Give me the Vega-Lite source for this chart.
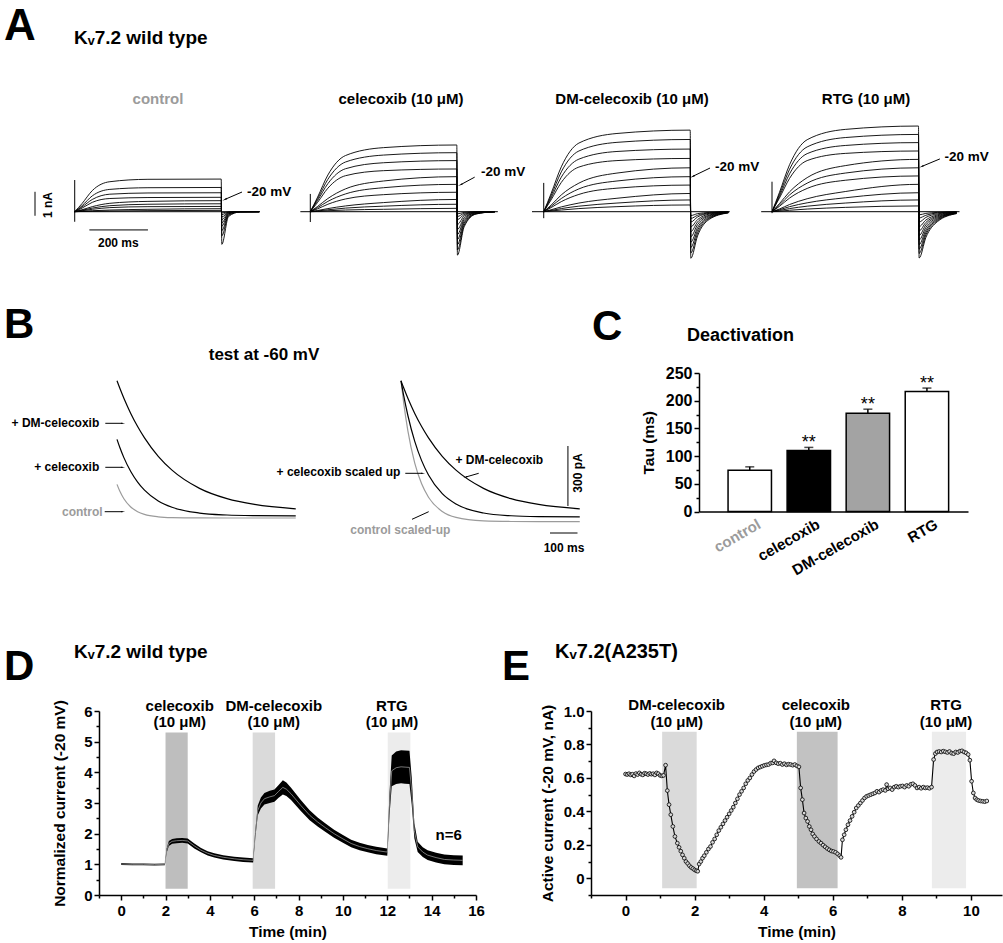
{
"$schema":"https://vega.github.io/schema/vega-lite/v6.json",
"background":"white",
"padding":{"top":5,"left":2,"right":0,"bottom":0},
"spacing":10,
"resolve":{"scale":{"color":"independent","fill":"independent"}},
"config":{
 "view":{"stroke":null},
 "font":"Liberation Sans",
 "title":{"font":"Liberation Sans","color":"black"},
 "text":{"font":"Liberation Sans","color":"black"},
 "axis":{"domainColor":"black","domainWidth":1.5,"tickColor":"black","tickWidth":1.5,"tickSize":5,"labelFont":"Liberation Sans","labelFontWeight":"bold","labelFontSize":15,"labelColor":"black","titleFont":"Liberation Sans","titleFontWeight":"bold","titleFontSize":15.5,"titleColor":"black","grid":false,"labelPadding":2,"labelFlush":false,"labelOverlap":false}
},
"datasets":{
"a0":[
{"k":1,"t":0,"v":0},{"k":1,"t":25,"v":0.34},{"k":1,"t":60,"v":0.88},{"k":1,"t":120,"v":1.25},{"k":1,"t":250,"v":1.35},{"k":1,"t":500,"v":1.36},{"k":1,"t":502,"v":-1.36},{"k":1,"t":525,"v":-0.2},{"k":1,"t":565,"v":-0.01},{"k":1,"t":630,"v":0},
{"k":2,"t":0,"v":0},{"k":2,"t":25,"v":0.25},{"k":2,"t":60,"v":0.66},{"k":2,"t":120,"v":0.93},{"k":2,"t":250,"v":1.0},{"k":2,"t":500,"v":1.01},{"k":2,"t":502,"v":-1.01},{"k":2,"t":525,"v":-0.15},{"k":2,"t":565,"v":-0.01},{"k":2,"t":630,"v":0},
{"k":3,"t":0,"v":0},{"k":3,"t":25,"v":0.2},{"k":3,"t":60,"v":0.51},{"k":3,"t":120,"v":0.73},{"k":3,"t":250,"v":0.78},{"k":3,"t":500,"v":0.79},{"k":3,"t":502,"v":-0.79},{"k":3,"t":525,"v":-0.12},{"k":3,"t":565,"v":0},{"k":3,"t":630,"v":0},
{"k":4,"t":0,"v":0},{"k":4,"t":25,"v":0.15},{"k":4,"t":60,"v":0.39},{"k":4,"t":120,"v":0.55},{"k":4,"t":250,"v":0.59},{"k":4,"t":500,"v":0.6},{"k":4,"t":502,"v":-0.6},{"k":4,"t":525,"v":-0.09},{"k":4,"t":565,"v":0},{"k":4,"t":630,"v":0},
{"k":5,"t":0,"v":0},{"k":5,"t":25,"v":0.08},{"k":5,"t":60,"v":0.21},{"k":5,"t":120,"v":0.35},{"k":5,"t":250,"v":0.43},{"k":5,"t":500,"v":0.46},{"k":5,"t":502,"v":-0.46},{"k":5,"t":525,"v":-0.07},{"k":5,"t":565,"v":0},{"k":5,"t":630,"v":0},
{"k":6,"t":0,"v":0},{"k":6,"t":25,"v":0.06},{"k":6,"t":60,"v":0.15},{"k":6,"t":120,"v":0.25},{"k":6,"t":250,"v":0.31},{"k":6,"t":500,"v":0.33},{"k":6,"t":502,"v":-0.33},{"k":6,"t":525,"v":-0.05},{"k":6,"t":565,"v":0},{"k":6,"t":630,"v":0},
{"k":7,"t":0,"v":0},{"k":7,"t":25,"v":0.04},{"k":7,"t":60,"v":0.1},{"k":7,"t":120,"v":0.17},{"k":7,"t":250,"v":0.21},{"k":7,"t":500,"v":0.22},{"k":7,"t":502,"v":-0.22},{"k":7,"t":525,"v":-0.03},{"k":7,"t":565,"v":0},{"k":7,"t":630,"v":0},
{"k":8,"t":0,"v":0},{"k":8,"t":25,"v":0.015},{"k":8,"t":60,"v":0.04},{"k":8,"t":120,"v":0.07},{"k":8,"t":250,"v":0.1},{"k":8,"t":500,"v":0.125},{"k":8,"t":502,"v":-0.12},{"k":8,"t":525,"v":-0.02},{"k":8,"t":565,"v":0},{"k":8,"t":630,"v":0},
{"k":9,"t":0,"v":0},{"k":9,"t":25,"v":0.01},{"k":9,"t":60,"v":0.02},{"k":9,"t":120,"v":0.03},{"k":9,"t":250,"v":0.045},{"k":9,"t":500,"v":0.055},{"k":9,"t":502,"v":-0.05},{"k":9,"t":525,"v":-0.01},{"k":9,"t":565,"v":0},{"k":9,"t":630,"v":0}
],
"a1":[
{"k":1,"t":0,"v":0},{"k":1,"t":25,"v":0.61},{"k":1,"t":60,"v":1.53},{"k":1,"t":120,"v":2.34},{"k":1,"t":250,"v":2.67},{"k":1,"t":500,"v":2.78},{"k":1,"t":502,"v":-1.81},{"k":1,"t":525,"v":-0.63},{"k":1,"t":565,"v":-0.1},{"k":1,"t":630,"v":0},
{"k":2,"t":0,"v":0},{"k":2,"t":25,"v":0.54},{"k":2,"t":60,"v":1.35},{"k":2,"t":120,"v":2.07},{"k":2,"t":250,"v":2.36},{"k":2,"t":500,"v":2.46},{"k":2,"t":502,"v":-1.6},{"k":2,"t":525,"v":-0.56},{"k":2,"t":565,"v":-0.09},{"k":2,"t":630,"v":0},
{"k":3,"t":0,"v":0},{"k":3,"t":25,"v":0.47},{"k":3,"t":60,"v":1.17},{"k":3,"t":120,"v":1.79},{"k":3,"t":250,"v":2.04},{"k":3,"t":500,"v":2.13},{"k":3,"t":502,"v":-1.38},{"k":3,"t":525,"v":-0.48},{"k":3,"t":565,"v":-0.08},{"k":3,"t":630,"v":0},
{"k":4,"t":0,"v":0},{"k":4,"t":25,"v":0.39},{"k":4,"t":60,"v":0.98},{"k":4,"t":120,"v":1.5},{"k":4,"t":250,"v":1.71},{"k":4,"t":500,"v":1.78},{"k":4,"t":502,"v":-1.16},{"k":4,"t":525,"v":-0.41},{"k":4,"t":565,"v":-0.07},{"k":4,"t":630,"v":0},
{"k":5,"t":0,"v":0},{"k":5,"t":25,"v":0.22},{"k":5,"t":60,"v":0.55},{"k":5,"t":120,"v":0.95},{"k":5,"t":250,"v":1.28},{"k":5,"t":500,"v":1.46},{"k":5,"t":502,"v":-0.95},{"k":5,"t":525,"v":-0.33},{"k":5,"t":565,"v":-0.05},{"k":5,"t":630,"v":0},
{"k":6,"t":0,"v":0},{"k":6,"t":25,"v":0.17},{"k":6,"t":60,"v":0.43},{"k":6,"t":120,"v":0.74},{"k":6,"t":250,"v":1.0},{"k":6,"t":500,"v":1.14},{"k":6,"t":502,"v":-0.74},{"k":6,"t":525,"v":-0.26},{"k":6,"t":565,"v":-0.04},{"k":6,"t":630,"v":0},
{"k":7,"t":0,"v":0},{"k":7,"t":25,"v":0.12},{"k":7,"t":60,"v":0.31},{"k":7,"t":120,"v":0.53},{"k":7,"t":250,"v":0.71},{"k":7,"t":500,"v":0.81},{"k":7,"t":502,"v":-0.53},{"k":7,"t":525,"v":-0.18},{"k":7,"t":565,"v":-0.03},{"k":7,"t":630,"v":0},
{"k":8,"t":0,"v":0},{"k":8,"t":25,"v":0.05},{"k":8,"t":60,"v":0.13},{"k":8,"t":120,"v":0.24},{"k":8,"t":250,"v":0.38},{"k":8,"t":500,"v":0.51},{"k":8,"t":502,"v":-0.33},{"k":8,"t":525,"v":-0.12},{"k":8,"t":565,"v":-0.02},{"k":8,"t":630,"v":0},
{"k":9,"t":0,"v":0},{"k":9,"t":25,"v":0.03},{"k":9,"t":60,"v":0.08},{"k":9,"t":120,"v":0.15},{"k":9,"t":250,"v":0.23},{"k":9,"t":500,"v":0.31},{"k":9,"t":502,"v":-0.2},{"k":9,"t":525,"v":-0.07},{"k":9,"t":565,"v":-0.01},{"k":9,"t":630,"v":0},
{"k":10,"t":0,"v":0},{"k":10,"t":25,"v":0.01},{"k":10,"t":60,"v":0.04},{"k":10,"t":120,"v":0.07},{"k":10,"t":250,"v":0.1},{"k":10,"t":500,"v":0.14},{"k":10,"t":502,"v":-0.09},{"k":10,"t":525,"v":-0.03},{"k":10,"t":565,"v":0},{"k":10,"t":630,"v":0}
],
"a2":[
{"k":1,"t":0,"v":0},{"k":1,"t":25,"v":0.75},{"k":1,"t":60,"v":1.87},{"k":1,"t":120,"v":2.86},{"k":1,"t":250,"v":3.26},{"k":1,"t":500,"v":3.4},{"k":1,"t":502,"v":-1.94},{"k":1,"t":525,"v":-1.01},{"k":1,"t":565,"v":-0.32},{"k":1,"t":630,"v":-0.05},
{"k":2,"t":0,"v":0},{"k":2,"t":25,"v":0.66},{"k":2,"t":60,"v":1.66},{"k":2,"t":120,"v":2.53},{"k":2,"t":250,"v":2.89},{"k":2,"t":500,"v":3.01},{"k":2,"t":502,"v":-1.72},{"k":2,"t":525,"v":-0.89},{"k":2,"t":565,"v":-0.28},{"k":2,"t":630,"v":-0.04},
{"k":3,"t":0,"v":0},{"k":3,"t":25,"v":0.57},{"k":3,"t":60,"v":1.44},{"k":3,"t":120,"v":2.19},{"k":3,"t":250,"v":2.51},{"k":3,"t":500,"v":2.61},{"k":3,"t":502,"v":-1.49},{"k":3,"t":525,"v":-0.77},{"k":3,"t":565,"v":-0.25},{"k":3,"t":630,"v":-0.04},
{"k":4,"t":0,"v":0},{"k":4,"t":25,"v":0.49},{"k":4,"t":60,"v":1.22},{"k":4,"t":120,"v":1.86},{"k":4,"t":250,"v":2.13},{"k":4,"t":500,"v":2.22},{"k":4,"t":502,"v":-1.27},{"k":4,"t":525,"v":-0.66},{"k":4,"t":565,"v":-0.21},{"k":4,"t":630,"v":-0.03},
{"k":5,"t":0,"v":0},{"k":5,"t":25,"v":0.27},{"k":5,"t":60,"v":0.7},{"k":5,"t":120,"v":1.19},{"k":5,"t":250,"v":1.61},{"k":5,"t":500,"v":1.83},{"k":5,"t":502,"v":-1.04},{"k":5,"t":525,"v":-0.54},{"k":5,"t":565,"v":-0.17},{"k":5,"t":630,"v":-0.03},
{"k":6,"t":0,"v":0},{"k":6,"t":25,"v":0.22},{"k":6,"t":60,"v":0.55},{"k":6,"t":120,"v":0.95},{"k":6,"t":250,"v":1.28},{"k":6,"t":500,"v":1.46},{"k":6,"t":502,"v":-0.83},{"k":6,"t":525,"v":-0.43},{"k":6,"t":565,"v":-0.14},{"k":6,"t":630,"v":-0.02},
{"k":7,"t":0,"v":0},{"k":7,"t":25,"v":0.17},{"k":7,"t":60,"v":0.42},{"k":7,"t":120,"v":0.72},{"k":7,"t":250,"v":0.98},{"k":7,"t":500,"v":1.11},{"k":7,"t":502,"v":-0.63},{"k":7,"t":525,"v":-0.33},{"k":7,"t":565,"v":-0.1},{"k":7,"t":630,"v":-0.02},
{"k":8,"t":0,"v":0},{"k":8,"t":25,"v":0.08},{"k":8,"t":60,"v":0.2},{"k":8,"t":120,"v":0.36},{"k":8,"t":250,"v":0.56},{"k":8,"t":500,"v":0.76},{"k":8,"t":502,"v":-0.43},{"k":8,"t":525,"v":-0.22},{"k":8,"t":565,"v":-0.07},{"k":8,"t":630,"v":-0.01},
{"k":9,"t":0,"v":0},{"k":9,"t":25,"v":0.05},{"k":9,"t":60,"v":0.13},{"k":9,"t":120,"v":0.23},{"k":9,"t":250,"v":0.36},{"k":9,"t":500,"v":0.49},{"k":9,"t":502,"v":-0.28},{"k":9,"t":525,"v":-0.15},{"k":9,"t":565,"v":-0.05},{"k":9,"t":630,"v":0},
{"k":10,"t":0,"v":0},{"k":10,"t":25,"v":0.03},{"k":10,"t":60,"v":0.07},{"k":10,"t":120,"v":0.13},{"k":10,"t":250,"v":0.21},{"k":10,"t":500,"v":0.28},{"k":10,"t":502,"v":-0.16},{"k":10,"t":525,"v":-0.08},{"k":10,"t":565,"v":-0.03},{"k":10,"t":630,"v":0}
],
"a3":[
{"k":1,"t":0,"v":0},{"k":1,"t":25,"v":0.79},{"k":1,"t":60,"v":1.96},{"k":1,"t":120,"v":3.0},{"k":1,"t":250,"v":3.43},{"k":1,"t":500,"v":3.57},{"k":1,"t":502,"v":-1.93},{"k":1,"t":525,"v":-1.08},{"k":1,"t":565,"v":-0.41},{"k":1,"t":630,"v":-0.08},
{"k":2,"t":0,"v":0},{"k":2,"t":25,"v":0.71},{"k":2,"t":60,"v":1.77},{"k":2,"t":120,"v":2.7},{"k":2,"t":250,"v":3.09},{"k":2,"t":500,"v":3.22},{"k":2,"t":502,"v":-1.74},{"k":2,"t":525,"v":-0.97},{"k":2,"t":565,"v":-0.37},{"k":2,"t":630,"v":-0.07},
{"k":3,"t":0,"v":0},{"k":3,"t":25,"v":0.63},{"k":3,"t":60,"v":1.58},{"k":3,"t":120,"v":2.42},{"k":3,"t":250,"v":2.76},{"k":3,"t":500,"v":2.88},{"k":3,"t":502,"v":-1.56},{"k":3,"t":525,"v":-0.87},{"k":3,"t":565,"v":-0.33},{"k":3,"t":630,"v":-0.06},
{"k":4,"t":0,"v":0},{"k":4,"t":25,"v":0.56},{"k":4,"t":60,"v":1.39},{"k":4,"t":120,"v":2.13},{"k":4,"t":250,"v":2.43},{"k":4,"t":500,"v":2.53},{"k":4,"t":502,"v":-1.37},{"k":4,"t":525,"v":-0.77},{"k":4,"t":565,"v":-0.29},{"k":4,"t":630,"v":-0.05},
{"k":5,"t":0,"v":0},{"k":5,"t":25,"v":0.33},{"k":5,"t":60,"v":0.83},{"k":5,"t":120,"v":1.42},{"k":5,"t":250,"v":1.92},{"k":5,"t":500,"v":2.18},{"k":5,"t":502,"v":-1.18},{"k":5,"t":525,"v":-0.66},{"k":5,"t":565,"v":-0.25},{"k":5,"t":630,"v":-0.05},
{"k":6,"t":0,"v":0},{"k":6,"t":25,"v":0.27},{"k":6,"t":60,"v":0.7},{"k":6,"t":120,"v":1.19},{"k":6,"t":250,"v":1.61},{"k":6,"t":500,"v":1.83},{"k":6,"t":502,"v":-0.99},{"k":6,"t":525,"v":-0.55},{"k":6,"t":565,"v":-0.21},{"k":6,"t":630,"v":-0.04},
{"k":7,"t":0,"v":0},{"k":7,"t":25,"v":0.22},{"k":7,"t":60,"v":0.57},{"k":7,"t":120,"v":0.97},{"k":7,"t":250,"v":1.31},{"k":7,"t":500,"v":1.49},{"k":7,"t":502,"v":-0.8},{"k":7,"t":525,"v":-0.45},{"k":7,"t":565,"v":-0.17},{"k":7,"t":630,"v":-0.03},
{"k":8,"t":0,"v":0},{"k":8,"t":25,"v":0.11},{"k":8,"t":60,"v":0.3},{"k":8,"t":120,"v":0.54},{"k":8,"t":250,"v":0.84},{"k":8,"t":500,"v":1.14},{"k":8,"t":502,"v":-0.62},{"k":8,"t":525,"v":-0.35},{"k":8,"t":565,"v":-0.13},{"k":8,"t":630,"v":-0.02},
{"k":9,"t":0,"v":0},{"k":9,"t":25,"v":0.08},{"k":9,"t":60,"v":0.21},{"k":9,"t":120,"v":0.37},{"k":9,"t":250,"v":0.58},{"k":9,"t":500,"v":0.79},{"k":9,"t":502,"v":-0.43},{"k":9,"t":525,"v":-0.24},{"k":9,"t":565,"v":-0.09},{"k":9,"t":630,"v":-0.02},
{"k":10,"t":0,"v":0},{"k":10,"t":25,"v":0.05},{"k":10,"t":60,"v":0.13},{"k":10,"t":120,"v":0.23},{"k":10,"t":250,"v":0.36},{"k":10,"t":500,"v":0.49},{"k":10,"t":502,"v":-0.26},{"k":10,"t":525,"v":-0.15},{"k":10,"t":565,"v":-0.05},{"k":10,"t":630,"v":-0.01},
{"k":11,"t":0,"v":0},{"k":11,"t":25,"v":0.02},{"k":11,"t":60,"v":0.06},{"k":11,"t":120,"v":0.11},{"k":11,"t":250,"v":0.18},{"k":11,"t":500,"v":0.24},{"k":11,"t":502,"v":-0.13},{"k":11,"t":525,"v":-0.07},{"k":11,"t":565,"v":-0.03},{"k":11,"t":630,"v":0}
],
"ann":[
{"p":"a0","m":"r","t":-2,"v":0,"t2":630,"v2":0},
{"p":"a0","m":"r","t":0,"v":-0.42,"t2":0,"v2":1.32},
{"p":"a0","m":"r","t":571,"v":0.82,"t2":514,"v2":0.52},
{"p":"a0","m":"r","t":-135.5,"v":-0.17,"t2":-135.5,"v2":0.83},
{"p":"a0","m":"r","t":50,"v":-0.76,"t2":250,"v2":-0.76},
{"p":"a0","m":"h","t":514,"v":0.52},
{"p":"a0","m":"s","t":588,"v":0.82,"lab":"-20 mV"},
{"p":"a0","m":"c","t":148.8,"v":-1.32,"lab":"200 ms"},
{"p":"a0","m":"rot","t":-91.8,"v":0.28,"lab":"1 nA"},
{"p":"a1","m":"r","t":-34,"v":0,"t2":640,"v2":0},
{"p":"a1","m":"r","t":0,"v":-0.43,"t2":0,"v2":0.74},
{"p":"a1","m":"r","t":561,"v":1.44,"t2":514,"v2":1.13},
{"p":"a1","m":"h","t":514,"v":1.13},
{"p":"a1","m":"s","t":582.6,"v":1.65,"lab":"-20 mV"},
{"p":"a2","m":"r","t":-40,"v":0,"t2":635,"v2":0},
{"p":"a2","m":"r","t":0,"v":-0.27,"t2":0,"v2":1.2},
{"p":"a2","m":"r","t":567.6,"v":1.82,"t2":510,"v2":1.48},
{"p":"a2","m":"h","t":510,"v":1.48},
{"p":"a2","m":"s","t":584.6,"v":1.86,"lab":"-20 mV"},
{"p":"a3","m":"r","t":-37,"v":0,"t2":640,"v2":0},
{"p":"a3","m":"r","t":0,"v":-0.06,"t2":0,"v2":1.25},
{"p":"a3","m":"r","t":573,"v":2.2,"t2":512,"v2":1.89},
{"p":"a3","m":"h","t":512,"v":1.89},
{"p":"a3","m":"s","t":588.4,"v":2.28,"lab":"-20 mV"}
],
"b1":[
{"s":"ctl","t":0,"v":168},{"s":"ctl","t":10,"v":134.6},{"s":"ctl","t":25,"v":96.4},{"s":"ctl","t":50,"v":55.3},{"s":"ctl","t":75,"v":31.7},{"s":"ctl","t":100,"v":18.2},{"s":"ctl","t":150,"v":6},{"s":"ctl","t":200,"v":2},{"s":"ctl","t":300,"v":0.2},{"s":"ctl","t":400,"v":0},{"s":"ctl","t":500,"v":0},{"s":"ctl","t":650,"v":0},
{"s":"cel","t":0,"v":393},{"s":"cel","t":10,"v":353.6},{"s":"cel","t":25,"v":301.9},{"s":"cel","t":50,"v":232.5},{"s":"cel","t":75,"v":179.5},{"s":"cel","t":100,"v":139.1},{"s":"cel","t":150,"v":85},{"s":"cel","t":200,"v":53.5},{"s":"cel","t":300,"v":24.7},{"s":"cel","t":400,"v":15},{"s":"cel","t":500,"v":11.7},{"s":"cel","t":650,"v":10.3},
{"s":"dm","t":0,"v":686},{"s":"dm","t":10,"v":649.6},{"s":"dm","t":25,"v":598.8},{"s":"dm","t":50,"v":523},{"s":"dm","t":75,"v":457.3},{"s":"dm","t":100,"v":400.4},{"s":"dm","t":150,"v":308.4},{"s":"dm","t":200,"v":239.2},{"s":"dm","t":300,"v":148.1},{"s":"dm","t":400,"v":96.7},{"s":"dm","t":500,"v":67.7},{"s":"dm","t":650,"v":46}
],
"b2":[
{"s":"ctl","t":0,"v":686},{"s":"ctl","t":10,"v":572.8},{"s":"ctl","t":25,"v":436},{"s":"ctl","t":50,"v":274.8},{"s":"ctl","t":75,"v":170.8},{"s":"ctl","t":100,"v":103.8},{"s":"ctl","t":150,"v":32.6},{"s":"ctl","t":200,"v":3},{"s":"ctl","t":300,"v":-14.4},{"s":"ctl","t":400,"v":-17.4},{"s":"ctl","t":500,"v":-18},{"s":"ctl","t":650,"v":-18},
{"s":"cel","t":0,"v":686},{"s":"cel","t":10,"v":610.4},{"s":"cel","t":25,"v":512.5},{"s":"cel","t":50,"v":383},{"s":"cel","t":75,"v":286.9},{"s":"cel","t":100,"v":215},{"s":"cel","t":150,"v":121.6},{"s":"cel","t":200,"v":69.8},{"s":"cel","t":300,"v":25},{"s":"cel","t":400,"v":11.2},{"s":"cel","t":500,"v":6.9},{"s":"cel","t":650,"v":5.3},
{"s":"dm","t":0,"v":686},{"s":"dm","t":10,"v":649.6},{"s":"dm","t":25,"v":598.8},{"s":"dm","t":50,"v":523},{"s":"dm","t":75,"v":457.3},{"s":"dm","t":100,"v":400.4},{"s":"dm","t":150,"v":308.4},{"s":"dm","t":200,"v":239.2},{"s":"dm","t":300,"v":148.1},{"s":"dm","t":400,"v":96.7},{"s":"dm","t":500,"v":67.7},{"s":"dm","t":650,"v":46}
],
"bann":[
{"p":"b1","m":"r","t":-42.5,"v":473.5,"t2":20,"v2":473.5},
{"p":"b1","m":"r","t":-42.5,"v":253.5,"t2":20,"v2":253.5},
{"p":"b1","m":"r","t":-44.7,"v":31.5,"t2":20,"v2":31.5},
{"p":"b1","m":"h","t":20,"v":473.5},
{"p":"b1","m":"h","t":20,"v":253.5},
{"p":"b1","m":"h","t":20,"v":31.5},
{"p":"b1","m":"sr","s":"dm","t":-64.4,"v":473.5,"lab":"+ DM-celecoxib"},
{"p":"b1","m":"sr","s":"cel","t":-64.4,"v":253.5,"lab":"+ celecoxib"},
{"p":"b1","m":"sr","s":"ctl","t":-52,"v":31.5,"lab":"control"},
{"p":"b2","m":"r","t":15.6,"v":223.5,"t2":78,"v2":223.5},
{"p":"b2","m":"h","t":78,"v":223.5},
{"p":"b2","m":"r","t":282.5,"v":223.5,"t2":236,"v2":205},
{"p":"b2","m":"h2","t":236,"v":205},
{"p":"b2","m":"r","t":40,"v":-6.5,"t2":100.7,"v2":31.5},
{"p":"b2","m":"r","t":607,"v":60,"t2":607,"v2":360},
{"p":"b2","m":"r","t":541.8,"v":-75,"t2":641.8,"v2":-75},
{"p":"b2","m":"sr","s":"cel","t":-2.5,"v":231.5,"lab":"+ celecoxib scaled up"},
{"p":"b2","m":"sl","s":"dm","t":197.8,"v":290,"lab":"+ DM-celecoxib"},
{"p":"b2","m":"sl","s":"ctl","t":-184.4,"v":-60,"lab":"control scaled-up"},
{"p":"b2","m":"sc","s":"dm","t":592.7,"v":-150,"lab":"100 ms"},
{"p":"b2","m":"rot","s":"dm","t":643.6,"v":225,"lab":"300 pA"}
],
"cdata":[
{"g":"control","m":74.5,"hi":80.6,"sig":""},
{"g":"celecoxib","m":110.2,"hi":115.7,"sig":"**"},
{"g":"DM-celecoxib","m":177.4,"hi":184.7,"sig":"**"},
{"g":"RTG","m":216.8,"hi":222.8,"sig":"**"}
],
"drect":[
{"d":"cel","t0":2.0,"t1":3.0,"lo":0.2,"hi":5.3},
{"d":"dm","t0":5.93,"t1":6.94,"lo":0.2,"hi":5.3},
{"d":"rtg","t0":12.02,"t1":13.04,"lo":0.2,"hi":5.3}
],
"dline":[
{"t":0,"m":1.01,"lo":0.98,"hi":1.04},{"t":0.5,"m":1.0,"lo":0.97,"hi":1.03},{"t":1.0,"m":1.0,"lo":0.97,"hi":1.03},{"t":1.5,"m":0.99,"lo":0.96,"hi":1.02},{"t":1.97,"m":1.0,"lo":0.97,"hi":1.03},
{"t":2.05,"m":1.45,"lo":1.38,"hi":1.52},{"t":2.15,"m":1.68,"lo":1.6,"hi":1.76},{"t":2.3,"m":1.75,"lo":1.67,"hi":1.83},{"t":2.5,"m":1.77,"lo":1.69,"hi":1.85},{"t":2.75,"m":1.78,"lo":1.7,"hi":1.86},{"t":3.0,"m":1.76,"lo":1.68,"hi":1.84},
{"t":3.3,"m":1.6,"lo":1.52,"hi":1.68},{"t":3.6,"m":1.46,"lo":1.39,"hi":1.53},{"t":3.9,"m":1.36,"lo":1.29,"hi":1.43},{"t":4.2,"m":1.29,"lo":1.22,"hi":1.36},{"t":4.6,"m":1.23,"lo":1.16,"hi":1.3},{"t":5.1,"m":1.18,"lo":1.11,"hi":1.25},{"t":5.5,"m":1.15,"lo":1.08,"hi":1.22},{"t":5.95,"m":1.13,"lo":1.06,"hi":1.2},
{"t":6.05,"m":2.0,"lo":1.88,"hi":2.12},{"t":6.16,"m":2.76,"lo":2.6,"hi":2.92},{"t":6.3,"m":3.0,"lo":2.82,"hi":3.18},{"t":6.46,"m":3.14,"lo":2.95,"hi":3.33},{"t":6.7,"m":3.2,"lo":3.0,"hi":3.4},{"t":6.91,"m":3.24,"lo":3.04,"hi":3.44},{"t":7.1,"m":3.38,"lo":3.17,"hi":3.59},{"t":7.29,"m":3.51,"lo":3.28,"hi":3.74},{"t":7.45,"m":3.45,"lo":3.23,"hi":3.67},{"t":7.66,"m":3.3,"lo":3.1,"hi":3.5},
{"t":8.1,"m":2.92,"lo":2.74,"hi":3.1},{"t":8.5,"m":2.6,"lo":2.44,"hi":2.76},{"t":8.86,"m":2.38,"lo":2.23,"hi":2.53},{"t":9.2,"m":2.2,"lo":2.06,"hi":2.34},{"t":9.6,"m":2.0,"lo":1.87,"hi":2.13},{"t":10.0,"m":1.83,"lo":1.7,"hi":1.96},{"t":10.37,"m":1.68,"lo":1.56,"hi":1.8},{"t":10.75,"m":1.58,"lo":1.46,"hi":1.7},{"t":11.12,"m":1.51,"lo":1.39,"hi":1.63},{"t":11.5,"m":1.45,"lo":1.33,"hi":1.57},{"t":12.0,"m":1.4,"lo":1.28,"hi":1.52},
{"t":12.1,"m":2.97,"lo":2.6,"hi":3.34},{"t":12.2,"m":4.05,"lo":3.55,"hi":4.55},{"t":12.4,"m":4.15,"lo":3.62,"hi":4.68},{"t":12.62,"m":4.18,"lo":3.64,"hi":4.72},{"t":12.8,"m":4.17,"lo":3.63,"hi":4.71},{"t":13.0,"m":4.16,"lo":3.62,"hi":4.7},
{"t":13.1,"m":3.4,"lo":2.95,"hi":3.85},{"t":13.22,"m":2.1,"lo":1.85,"hi":2.35},{"t":13.37,"m":1.57,"lo":1.4,"hi":1.74},{"t":13.6,"m":1.4,"lo":1.24,"hi":1.56},{"t":13.82,"m":1.3,"lo":1.14,"hi":1.46},{"t":14.2,"m":1.22,"lo":1.06,"hi":1.38},{"t":14.57,"m":1.16,"lo":1.0,"hi":1.32},{"t":15.0,"m":1.14,"lo":0.98,"hi":1.3},{"t":15.4,"m":1.13,"lo":0.97,"hi":1.29}
],
"dtext":[
{"t":2.64,"v":6.16,"s":"celecoxib"},{"t":2.64,"v":5.65,"s":"(10 μM)"},
{"t":6.88,"v":6.16,"s":"DM-celecoxib"},{"t":6.88,"v":5.65,"s":"(10 μM)"},
{"t":12.21,"v":6.16,"s":"RTG"},{"t":12.21,"v":5.65,"s":"(10 μM)"},
{"t":14.77,"v":1.96,"s":"n=6"}
],
"erect":[
{"d":"dm","t0":1.06,"t1":2.06,"lo":-0.06,"hi":0.876},
{"d":"cel","t0":4.96,"t1":6.14,"lo":-0.06,"hi":0.876},
{"d":"rtg","t0":8.87,"t1":9.86,"lo":-0.06,"hi":0.876}
],
"etext":[
{"t":1.48,"v":1.035,"s":"DM-celecoxib"},{"t":1.48,"v":0.934,"s":"(10 μM)"},
{"t":5.51,"v":1.035,"s":"celecoxib"},{"t":5.51,"v":0.934,"s":"(10 μM)"},
{"t":9.28,"v":1.035,"s":"RTG"},{"t":9.28,"v":0.934,"s":"(10 μM)"}
],
"edata":[
{"t":0,"v":0.623},{"t":0.05,"v":0.62},{"t":0.1,"v":0.625},{"t":0.15,"v":0.618},{"t":0.2,"v":0.622},{"t":0.25,"v":0.612},{"t":0.3,"v":0.626},{"t":0.35,"v":0.62},{"t":0.4,"v":0.63},{"t":0.45,"v":0.622},{"t":0.5,"v":0.618},{"t":0.55,"v":0.628},{"t":0.6,"v":0.625},{"t":0.65,"v":0.62},{"t":0.7,"v":0.627},{"t":0.75,"v":0.622},{"t":0.8,"v":0.625},{"t":0.85,"v":0.618},{"t":0.9,"v":0.63},{"t":0.95,"v":0.625},{"t":1.0,"v":0.615},{"t":1.05,"v":0.612},{"t":1.1,"v":0.615},{"t":1.16,"v":0.676},
{"t":1.21,"v":0.524},{"t":1.26,"v":0.44},{"t":1.31,"v":0.38},{"t":1.37,"v":0.31},{"t":1.43,"v":0.25},{"t":1.5,"v":0.21},{"t":1.55,"v":0.185},{"t":1.6,"v":0.162},{"t":1.65,"v":0.14},{"t":1.7,"v":0.12},{"t":1.75,"v":0.1},{"t":1.8,"v":0.088},{"t":1.85,"v":0.075},{"t":1.9,"v":0.065},{"t":1.95,"v":0.058},{"t":2.0,"v":0.05},{"t":2.05,"v":0.045},{"t":2.09,"v":0.042},
{"t":2.13,"v":0.085},{"t":2.18,"v":0.1},{"t":2.23,"v":0.12},{"t":2.28,"v":0.135},{"t":2.34,"v":0.155},{"t":2.4,"v":0.175},{"t":2.46,"v":0.19},{"t":2.52,"v":0.215},{"t":2.58,"v":0.235},{"t":2.64,"v":0.26},{"t":2.7,"v":0.285},{"t":2.76,"v":0.305},{"t":2.82,"v":0.325},{"t":2.88,"v":0.345},{"t":2.94,"v":0.365},{"t":3.0,"v":0.385},{"t":3.06,"v":0.405},{"t":3.12,"v":0.425},{"t":3.18,"v":0.45},{"t":3.24,"v":0.475},{"t":3.3,"v":0.5},{"t":3.36,"v":0.52},{"t":3.42,"v":0.54},{"t":3.48,"v":0.565},{"t":3.54,"v":0.585},{"t":3.6,"v":0.6},{"t":3.66,"v":0.62},{"t":3.72,"v":0.638},{"t":3.78,"v":0.65},{"t":3.84,"v":0.66},{"t":3.9,"v":0.665},{"t":3.96,"v":0.67},{"t":4.02,"v":0.675},{"t":4.08,"v":0.678},{"t":4.14,"v":0.68},{"t":4.2,"v":0.688},{"t":4.26,"v":0.69},{"t":4.3,"v":0.702},{"t":4.36,"v":0.69},{"t":4.42,"v":0.685},{"t":4.48,"v":0.688},{"t":4.54,"v":0.68},{"t":4.6,"v":0.685},{"t":4.66,"v":0.678},{"t":4.72,"v":0.682},{"t":4.78,"v":0.68},{"t":4.84,"v":0.676},{"t":4.9,"v":0.68},{"t":4.96,"v":0.672},{"t":5.02,"v":0.666},
{"t":5.07,"v":0.54},{"t":5.12,"v":0.47},{"t":5.17,"v":0.39},{"t":5.22,"v":0.36},{"t":5.27,"v":0.34},{"t":5.32,"v":0.31},{"t":5.37,"v":0.29},{"t":5.42,"v":0.265},{"t":5.47,"v":0.25},{"t":5.53,"v":0.235},{"t":5.6,"v":0.22},{"t":5.66,"v":0.21},{"t":5.72,"v":0.198},{"t":5.78,"v":0.188},{"t":5.84,"v":0.178},{"t":5.9,"v":0.17},{"t":5.96,"v":0.163},{"t":6.02,"v":0.16},{"t":6.08,"v":0.155},{"t":6.14,"v":0.146},{"t":6.2,"v":0.135},{"t":6.24,"v":0.125},
{"t":6.28,"v":0.23},{"t":6.33,"v":0.26},{"t":6.38,"v":0.29},{"t":6.44,"v":0.32},{"t":6.5,"v":0.345},{"t":6.56,"v":0.37},{"t":6.62,"v":0.395},{"t":6.68,"v":0.42},{"t":6.74,"v":0.435},{"t":6.8,"v":0.45},{"t":6.86,"v":0.465},{"t":6.92,"v":0.48},{"t":6.98,"v":0.49},{"t":7.04,"v":0.495},{"t":7.1,"v":0.5},{"t":7.16,"v":0.505},{"t":7.22,"v":0.51},{"t":7.28,"v":0.52},{"t":7.34,"v":0.515},{"t":7.4,"v":0.525},{"t":7.46,"v":0.53},{"t":7.52,"v":0.525},{"t":7.56,"v":0.56},{"t":7.6,"v":0.535},{"t":7.66,"v":0.54},{"t":7.72,"v":0.53},{"t":7.78,"v":0.545},{"t":7.84,"v":0.55},{"t":7.9,"v":0.545},{"t":7.96,"v":0.55},{"t":8.02,"v":0.552},{"t":8.08,"v":0.545},{"t":8.14,"v":0.555},{"t":8.2,"v":0.55},{"t":8.26,"v":0.562},{"t":8.32,"v":0.565},{"t":8.38,"v":0.555},{"t":8.44,"v":0.54},{"t":8.5,"v":0.545},{"t":8.56,"v":0.538},{"t":8.62,"v":0.545},{"t":8.68,"v":0.54},{"t":8.74,"v":0.542},{"t":8.8,"v":0.538},{"t":8.86,"v":0.545},
{"t":8.92,"v":0.71},{"t":8.97,"v":0.745},{"t":9.02,"v":0.755},{"t":9.08,"v":0.758},{"t":9.14,"v":0.755},{"t":9.2,"v":0.76},{"t":9.26,"v":0.756},{"t":9.32,"v":0.752},{"t":9.38,"v":0.758},{"t":9.44,"v":0.748},{"t":9.5,"v":0.745},{"t":9.56,"v":0.755},{"t":9.62,"v":0.752},{"t":9.68,"v":0.76},{"t":9.74,"v":0.762},{"t":9.8,"v":0.755},{"t":9.86,"v":0.75},{"t":9.92,"v":0.74},{"t":9.97,"v":0.706},
{"t":10.02,"v":0.58},{"t":10.07,"v":0.51},{"t":10.12,"v":0.48},{"t":10.17,"v":0.47},{"t":10.22,"v":0.465},{"t":10.28,"v":0.462},{"t":10.34,"v":0.46},{"t":10.4,"v":0.458},{"t":10.46,"v":0.462}
]
},
"vconcat":[
{"bounds":"flush","spacing":0,"resolve":{"scale":{"color":"independent","fill":"independent"}},
 "title":{"text":"Kᵥ7.2 wild type","anchor":"start","frame":"group","dx":72,"offset":-57.5,"fontSize":19,"fontWeight":"bold","baseline":"alphabetic"},
 "hconcat":[
 {"width":97,"height":40,"data":{"values":[{}]},"mark":{"type":"text"},"encoding":{"text":{"value":""}},
  "title":{"text":"A","anchor":"start","frame":"group","dx":2,"offset":31,"fontSize":44,"fontWeight":"bold","baseline":"alphabetic"}},
 {"width":199,"height":179,
  "title":{"text":"control","color":"#9b9b9b","anchor":"middle","frame":"group","dx":-40.5,"offset":-4,"fontSize":15,"fontWeight":"bold","baseline":"alphabetic"},
  "encoding":{"x":{"field":"t","type":"quantitative","scale":{"domain":[82.9,762.1],"nice":false,"zero":false},"axis":null},"y":{"field":"v","type":"quantitative","scale":{"domain":[-3.43,4.03],"nice":false,"zero":false},"axis":null}},
  "layer":[
   {"data":{"name":"a0"},"mark":{"type":"line","interpolate":"monotone","color":"black","strokeWidth":0.9,"clip":false},"encoding":{"detail":{"field":"k","type":"nominal"}}},
   {"data":{"name":"ann"},"transform":[{"filter":"datum.p=='a0' && datum.m=='r'"}],"mark":{"type":"rule","color":"black","strokeWidth":1,"clip":false},"encoding":{"x2":{"field":"t2"},"y2":{"field":"v2"}}},
   {"data":{"name":"ann"},"transform":[{"filter":"datum.p=='a0' && datum.m=='h'"}],"mark":{"type":"point","shape":"wedge","angle":245,"filled":true,"color":"black","opacity":1,"size":35,"clip":false}},
   {"data":{"name":"ann"},"transform":[{"filter":"datum.p=='a0' && datum.m=='s'"}],"mark":{"type":"text","align":"left","baseline":"middle","fontSize":13.5,"fontWeight":"bold","clip":false},"encoding":{"text":{"field":"lab"}}},
   {"data":{"name":"ann"},"transform":[{"filter":"datum.p=='a0' && datum.m=='c'"}],"mark":{"type":"text","align":"center","baseline":"middle","fontSize":12,"fontWeight":"bold","clip":false},"encoding":{"text":{"field":"lab"}}},
   {"data":{"name":"ann"},"transform":[{"filter":"datum.p=='a0' && datum.m=='rot'"}],"mark":{"type":"text","align":"center","baseline":"middle","angle":270,"fontSize":12,"fontWeight":"bold","clip":false},"encoding":{"text":{"field":"lab"}}}
  ]},
 {"width":234,"height":179,
  "title":{"text":"celecoxib (10 μM)","anchor":"middle","frame":"group","dx":-14,"offset":-4,"fontSize":15,"fontWeight":"bold","baseline":"alphabetic"},
  "encoding":{"x":{"field":"t","type":"quantitative","scale":{"domain":[-42,756.6],"nice":false,"zero":false},"axis":null},"y":{"field":"v","type":"quantitative","scale":{"domain":[-3.43,4.03],"nice":false,"zero":false},"axis":null}},
  "layer":[
   {"data":{"name":"a1"},"mark":{"type":"line","interpolate":"monotone","color":"black","strokeWidth":0.9,"clip":false},"encoding":{"detail":{"field":"k","type":"nominal"}}},
   {"data":{"name":"ann"},"transform":[{"filter":"datum.p=='a1' && datum.m=='r'"}],"mark":{"type":"rule","color":"black","strokeWidth":1,"clip":false},"encoding":{"x2":{"field":"t2"},"y2":{"field":"v2"}}},
   {"data":{"name":"ann"},"transform":[{"filter":"datum.p=='a1' && datum.m=='h'"}],"mark":{"type":"point","shape":"wedge","angle":245,"filled":true,"color":"black","opacity":1,"size":35,"clip":false}},
   {"data":{"name":"ann"},"transform":[{"filter":"datum.p=='a1' && datum.m=='s'"}],"mark":{"type":"text","align":"left","baseline":"middle","fontSize":13.5,"fontWeight":"bold","clip":false},"encoding":{"text":{"field":"lab"}}}
  ]},
 {"width":228,"height":179,
  "title":{"text":"DM-celecoxib (10 μM)","anchor":"middle","frame":"group","dx":-14,"offset":-4,"fontSize":15,"fontWeight":"bold","baseline":"alphabetic"},
  "encoding":{"x":{"field":"t","type":"quantitative","scale":{"domain":[-40,738.2],"nice":false,"zero":false},"axis":null},"y":{"field":"v","type":"quantitative","scale":{"domain":[-3.43,4.03],"nice":false,"zero":false},"axis":null}},
  "layer":[
   {"data":{"name":"a2"},"mark":{"type":"line","interpolate":"monotone","color":"black","strokeWidth":0.9,"clip":false},"encoding":{"detail":{"field":"k","type":"nominal"}}},
   {"data":{"name":"ann"},"transform":[{"filter":"datum.p=='a2' && datum.m=='r'"}],"mark":{"type":"rule","color":"black","strokeWidth":1,"clip":false},"encoding":{"x2":{"field":"t2"},"y2":{"field":"v2"}}},
   {"data":{"name":"ann"},"transform":[{"filter":"datum.p=='a2' && datum.m=='h'"}],"mark":{"type":"point","shape":"wedge","angle":245,"filled":true,"color":"black","opacity":1,"size":35,"clip":false}},
   {"data":{"name":"ann"},"transform":[{"filter":"datum.p=='a2' && datum.m=='s'"}],"mark":{"type":"text","align":"left","baseline":"middle","fontSize":13.5,"fontWeight":"bold","clip":false},"encoding":{"text":{"field":"lab"}}}
  ]},
 {"width":243,"height":179,
  "title":{"text":"RTG (10 μM)","anchor":"middle","frame":"group","dx":-15.5,"offset":-4,"fontSize":15,"fontWeight":"bold","baseline":"alphabetic"},
  "encoding":{"x":{"field":"t","type":"quantitative","scale":{"domain":[-41,788.4],"nice":false,"zero":false},"axis":null},"y":{"field":"v","type":"quantitative","scale":{"domain":[-3.43,4.03],"nice":false,"zero":false},"axis":null}},
  "layer":[
   {"data":{"name":"a3"},"mark":{"type":"line","interpolate":"monotone","color":"black","strokeWidth":0.9,"clip":false},"encoding":{"detail":{"field":"k","type":"nominal"}}},
   {"data":{"name":"ann"},"transform":[{"filter":"datum.p=='a3' && datum.m=='r'"}],"mark":{"type":"rule","color":"black","strokeWidth":1,"clip":false},"encoding":{"x2":{"field":"t2"},"y2":{"field":"v2"}}},
   {"data":{"name":"ann"},"transform":[{"filter":"datum.p=='a3' && datum.m=='h'"}],"mark":{"type":"point","shape":"wedge","angle":245,"filled":true,"color":"black","opacity":1,"size":35,"clip":false}},
   {"data":{"name":"ann"},"transform":[{"filter":"datum.p=='a3' && datum.m=='s'"}],"mark":{"type":"text","align":"left","baseline":"middle","fontSize":13.5,"fontWeight":"bold","clip":false},"encoding":{"text":{"field":"lab"}}}
  ]}
 ]},
{"bounds":"flush","spacing":0,"resolve":{"scale":{"color":"independent","fill":"independent"}},
 "hconcat":[
 {"width":97,"height":40,"data":{"values":[{}]},"mark":{"type":"text"},"encoding":{"text":{"value":""}},
  "title":{"text":"B","anchor":"start","frame":"group","dx":2,"offset":-7,"fontSize":42,"fontWeight":"bold","baseline":"alphabetic"}},
 {"width":203,"height":258,
  "title":{"text":"test at -60 mV","anchor":"middle","frame":"group","dx":63.5,"offset":-4,"fontSize":17,"fontWeight":"bold","baseline":"alphabetic"},
  "encoding":{"x":{"field":"t","type":"quantitative","scale":{"domain":[-65.45,672.7],"nice":false,"zero":false},"axis":null},"y":{"field":"v","type":"quantitative","scale":{"domain":[-565,725],"nice":false,"zero":false},"axis":null},"color":{"field":"s","type":"nominal","scale":{"domain":["ctl","cel","dm"],"range":["#9b9b9b","black","black"]},"legend":null}},
  "layer":[
   {"data":{"name":"b1"},"mark":{"type":"line","interpolate":"monotone","strokeWidth":1.2,"clip":false},"encoding":{"detail":{"field":"s","type":"nominal"}}},
   {"data":{"name":"bann"},"transform":[{"filter":"datum.p=='b1' && datum.m=='r'"}],"mark":{"type":"rule","strokeWidth":1,"clip":false},"encoding":{"x2":{"field":"t2"},"y2":{"field":"v2"},"color":{"value":"black"}}},
   {"data":{"name":"bann"},"transform":[{"filter":"datum.p=='b1' && datum.m=='h'"}],"mark":{"type":"point","shape":"wedge","angle":90,"filled":true,"opacity":1,"size":22,"clip":false},"encoding":{"color":{"value":"black"}}},
   {"data":{"name":"bann"},"transform":[{"filter":"datum.p=='b1' && datum.m=='sr'"}],"mark":{"type":"text","align":"right","baseline":"middle","fontSize":12,"fontWeight":"bold","clip":false},"encoding":{"text":{"field":"lab"}}}
  ]},
 {"width":397,"height":258,
  "title":{"text":"C","anchor":"start","frame":"group","dx":290,"offset":-9,"fontSize":42,"fontWeight":"bold","baseline":"alphabetic"},
  "encoding":{"x":{"field":"t","type":"quantitative","scale":{"domain":[-360,1083.6],"nice":false,"zero":false},"axis":null},"y":{"field":"v","type":"quantitative","scale":{"domain":[-565,725],"nice":false,"zero":false},"axis":null},"color":{"field":"s","type":"nominal","scale":{"domain":["ctl","cel","dm"],"range":["#9b9b9b","black","black"]},"legend":null}},
  "layer":[
   {"data":{"name":"b2"},"mark":{"type":"line","interpolate":"monotone","strokeWidth":1.2,"clip":false},"encoding":{"detail":{"field":"s","type":"nominal"}}},
   {"data":{"name":"bann"},"transform":[{"filter":"datum.p=='b2' && datum.m=='r'"}],"mark":{"type":"rule","strokeWidth":1,"clip":false},"encoding":{"x2":{"field":"t2"},"y2":{"field":"v2"},"color":{"value":"black"}}},
   {"data":{"name":"bann"},"transform":[{"filter":"datum.p=='b2' && datum.m=='h'"}],"mark":{"type":"point","shape":"wedge","angle":90,"filled":true,"opacity":1,"size":22,"clip":false},"encoding":{"color":{"value":"black"}}},
   {"data":{"name":"bann"},"transform":[{"filter":"datum.p=='b2' && datum.m=='h2'"}],"mark":{"type":"point","shape":"wedge","angle":256,"filled":true,"opacity":1,"size":22,"clip":false},"encoding":{"color":{"value":"black"}}},
   {"data":{"name":"bann"},"transform":[{"filter":"datum.p=='b2' && datum.m=='sr'"}],"mark":{"type":"text","align":"right","baseline":"middle","fontSize":12,"fontWeight":"bold","clip":false},"encoding":{"text":{"field":"lab"}}},
   {"data":{"name":"bann"},"transform":[{"filter":"datum.p=='b2' && datum.m=='sl'"}],"mark":{"type":"text","align":"left","baseline":"middle","fontSize":12,"fontWeight":"bold","clip":false},"encoding":{"text":{"field":"lab"}}},
   {"data":{"name":"bann"},"transform":[{"filter":"datum.p=='b2' && datum.m=='sc'"}],"mark":{"type":"text","align":"center","baseline":"middle","fontSize":12,"fontWeight":"bold","clip":false},"encoding":{"text":{"field":"lab"}}},
   {"data":{"name":"bann"},"transform":[{"filter":"datum.p=='b2' && datum.m=='rot'"}],"mark":{"type":"text","align":"center","baseline":"middle","angle":270,"fontSize":12,"fontWeight":"bold","clip":false},"encoding":{"text":{"field":"lab"}}}
  ]},
 {"width":269,"height":138.5,
  "title":{"text":"Deactivation","anchor":"start","frame":"group","dx":-12,"offset":6.3,"fontSize":18,"fontWeight":"bold","baseline":"alphabetic"},
  "data":{"name":"cdata"},
  "layer":[
   {"mark":{"type":"bar","stroke":"black","strokeWidth":1.5},
    "encoding":{
     "x":{"field":"g","type":"nominal","sort":null,"scale":{"domain":["control","celecoxib","DM-celecoxib","RTG"],"paddingInner":0.265,"paddingOuter":0.41,"align":0.6},"axis":{"title":null,"ticks":false,"labelAngle":-30,"labelFontSize":15,"labelPadding":5,"labelOffset":6,"labelColor":{"expr":"datum.value=='control'?'#9b9b9b':'black'"}}},
     "y":{"field":"m","type":"quantitative","scale":{"domain":[0,250],"nice":false,"zero":false},"axis":{"values":[0,50,100,150,200,250],"title":"Tau (ms)","titlePadding":9,"labelFontSize":16,"tickSize":5}},
     "fill":{"field":"g","type":"nominal","scale":{"domain":["control","celecoxib","DM-celecoxib","RTG"],"range":["#ffffff","#000000","#a3a3a3","#ffffff"]},"legend":null}}},
   {"mark":{"type":"rule","color":"black","strokeWidth":1.5},
    "encoding":{"x":{"field":"g","type":"nominal","sort":null,"axis":null},"y":{"field":"m","type":"quantitative","axis":{"orient":"left","values":[25,75,125,175,225],"labels":false,"tickSize":3,"domain":false,"title":null}},"y2":{"field":"hi"}}},
   {"mark":{"type":"tick","color":"black","thickness":1.5,"size":9},
    "encoding":{"x":{"field":"g","type":"nominal","sort":null,"axis":null},"y":{"field":"hi","type":"quantitative","axis":null}}},
   {"mark":{"type":"text","fontSize":18,"baseline":"alphabetic","dy":1},
    "encoding":{"x":{"field":"g","type":"nominal","sort":null,"axis":null},"y":{"field":"hi","type":"quantitative","axis":null},"text":{"field":"sig"}}}
  ],
  "resolve":{"axis":{"x":"independent","y":"independent"}}}
 ]},
{"bounds":"flush","spacing":0,"resolve":{"scale":{"color":"independent","fill":"independent"}},
 "hconcat":[
 {"width":97,"height":40,"data":{"values":[{}]},"mark":{"type":"text"},"encoding":{"text":{"value":""}},
  "title":{"text":"D","anchor":"start","frame":"group","dx":2,"offset":-11,"fontSize":42,"fontWeight":"bold","baseline":"alphabetic"}},
 {"width":377,"height":184,
  "title":{"text":"Kᵥ7.2 wild type","anchor":"start","frame":"group","dx":-25,"offset":22.5,"fontSize":19,"fontWeight":"bold","baseline":"alphabetic"},
  "layer":[
   {"data":{"name":"drect"},"mark":{"type":"rect"},
    "encoding":{
     "x":{"field":"t0","type":"quantitative","scale":{"domain":[-1,16],"nice":false,"zero":false},"axis":{"orient":"bottom","values":[-1,1,3,5,7,9,11,13,15],"labels":false,"tickSize":3,"domain":false,"title":null}},
     "x2":{"field":"t1"},
     "y":{"field":"lo","type":"quantitative","scale":{"domain":[0,6],"nice":false,"zero":false},"axis":{"orient":"left","values":[0.5,1.5,2.5,3.5,4.5,5.5],"labels":false,"tickSize":3,"domain":false,"title":null}},
     "y2":{"field":"hi"},
     "fill":{"field":"d","type":"nominal","scale":{"domain":["cel","dm","rtg"],"range":["#bebebe","#dadada","#ececec"]},"legend":null}}},
   {"data":{"name":"dline"},"mark":{"type":"area","color":"black","opacity":1},
    "encoding":{
     "x":{"field":"t","type":"quantitative","axis":{"orient":"bottom","values":[0,2,4,6,8,10,12,14,16],"title":"Time (min)","titlePadding":6,"labelPadding":3}},
     "y":{"field":"lo","type":"quantitative","axis":{"orient":"left","values":[0,1,2,3,4,5,6],"title":"Normalized current (-20 mV)","titlePadding":16}},
     "y2":{"field":"hi"}}},
   {"data":{"name":"dline"},"mark":{"type":"line","color":"#a8a8a8","strokeWidth":0.7},
    "encoding":{"x":{"field":"t","type":"quantitative","axis":null},"y":{"field":"m","type":"quantitative","axis":null}}},
   {"data":{"name":"dtext"},"mark":{"type":"text","fontSize":15,"fontWeight":"bold","baseline":"middle","align":"center","clip":false},
    "encoding":{"x":{"field":"t","type":"quantitative","axis":null},"y":{"field":"v","type":"quantitative","axis":null},"text":{"field":"s"}}}
  ],
  "resolve":{"axis":{"x":"independent","y":"independent"}}},
 {"width":115,"height":40,"data":{"values":[{}]},"mark":{"type":"text"},"encoding":{"text":{"value":""}},
  "title":{"text":"E","anchor":"start","frame":"group","dx":26,"offset":-11,"fontSize":42,"fontWeight":"bold","baseline":"alphabetic"}},
 {"width":411,"height":184,
  "title":{"text":"Kᵥ7.2(A235T)","anchor":"start","frame":"group","dx":-36,"offset":20.5,"fontSize":20,"fontWeight":"bold","baseline":"alphabetic"},
  "layer":[
   {"data":{"name":"erect"},"mark":{"type":"rect"},
    "encoding":{
     "x":{"field":"t0","type":"quantitative","scale":{"domain":[-1,10.9],"nice":false,"zero":false},"axis":{"orient":"bottom","values":[-1,1,3,5,7,9],"labels":false,"tickSize":3,"domain":false,"title":null}},
     "x2":{"field":"t1"},
     "y":{"field":"lo","type":"quantitative","scale":{"domain":[-0.1,1.0],"nice":false,"zero":false},"axis":{"orient":"left","values":[-0.1,0.1,0.3,0.5,0.7,0.9],"labels":false,"tickSize":3,"domain":false,"title":null}},
     "y2":{"field":"hi"},
     "fill":{"field":"d","type":"nominal","scale":{"domain":["cel","dm","rtg"],"range":["#c2c2c2","#dadada","#ececec"]},"legend":null}}},
   {"data":{"name":"edata"},"mark":{"type":"line","color":"black","strokeWidth":1.1},
    "encoding":{
     "x":{"field":"t","type":"quantitative","axis":{"orient":"bottom","values":[0,2,4,6,8,10],"title":"Time (min)","titlePadding":6,"labelPadding":3}},
     "y":{"field":"v","type":"quantitative","axis":{"orient":"left","values":[0,0.2,0.4,0.6,0.8,1.0],"labelExpr":"datum.value==0?'0':format(datum.value,'.1f')","title":"Active current (-20 mV, nA)","titlePadding":8}}}},
   {"data":{"name":"edata"},"mark":{"type":"point","shape":"circle","filled":true,"fill":"#d8d8d8","stroke":"black","strokeWidth":0.8,"size":14,"opacity":1},
    "encoding":{"x":{"field":"t","type":"quantitative","axis":null},"y":{"field":"v","type":"quantitative","axis":null}}},
   {"data":{"name":"etext"},"mark":{"type":"text","fontSize":15,"fontWeight":"bold","baseline":"middle","align":"center","clip":false},
    "encoding":{"x":{"field":"t","type":"quantitative","axis":null},"y":{"field":"v","type":"quantitative","axis":null},"text":{"field":"s"}}}
  ],
  "resolve":{"axis":{"x":"independent","y":"independent"}}}
 ]}
]
}
